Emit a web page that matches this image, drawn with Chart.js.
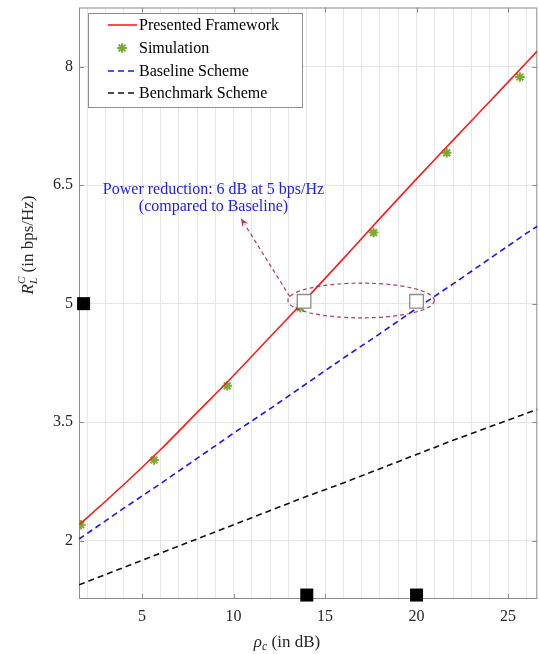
<!DOCTYPE html>
<html>
<head>
<meta charset="utf-8">
<script src="https://cdn.jsdelivr.net/npm/chart.js@4.4.1/dist/chart.umd.min.js"></script>
<style>
  html, body { margin: 0; padding: 0; background: #ffffff; }
  #wrap { width: 539px; height: 654px; }
</style>
</head>
<body>
<div id="wrap"><canvas id="rateChart" width="539" height="654"></canvas></div>
<script>
// x grid every 1 dB, labelled ticks every 5 dB
const xGridValues = [2, 3, 4, 5, 6, 7, 8, 9, 10, 11, 12, 13, 14, 15, 16, 17, 18, 19, 20, 21, 22, 23, 24, 25, 26];
const yTickValues = [2, 3.5, 5, 6.5, 8];

const curveSnr = [1.55, 2, 4, 6, 8, 10, 12, 14, 16, 18, 20, 22, 24, 26, 26.6];
const presentedRate = [2.2, 2.29, 2.71, 3.15, 3.62, 4.09, 4.58, 5.07, 5.57, 6.08, 6.58, 7.07, 7.56, 8.05, 8.2];
const baselineRate = [2.02, 2.09, 2.41, 2.72, 3.04, 3.36, 3.67, 3.99, 4.31, 4.62, 4.94, 5.25, 5.57, 5.89, 5.98];
const benchmarkRate = [1.44, 1.48, 1.66, 1.84, 2.02, 2.2, 2.38, 2.56, 2.73, 2.91, 3.09, 3.27, 3.44, 3.61, 3.66];

const simSnr = [1.65, 5.65, 9.65, 13.65, 17.65, 21.65, 25.65];
const simRate = [2.2, 3.02, 3.96, 4.95, 5.9, 6.91, 7.87];

// open squares at the 5 bps/Hz crossing points
const crossSnr = [13.85, 20];
const crossRate = [5.03, 5.03];

// filled black markers on the axes
const axisMarkSnr = [1.8, 14, 20];
const axisMarkRate = [5, 1.31, 1.31];

// annotation (data coordinates)
const ellipseCenter = [16.97, 5.04];
const ellipseRadius = [4.0, 0.22];
const arrowFrom = [13.07, 5.09];
const arrowTo = [10.4, 6.08];
const noteAt = [8.9, 6.44];
const noteLines = ["Power reduction: 6 dB at 5 bps/Hz", "(compared to Baseline)"];

const legendLabels = ["Presented Framework", "Simulation", "Baseline Scheme", "Benchmark Scheme"];

const SERIF = "'Liberation Serif', 'Times New Roman', serif";
const toXY = (xs, ys) => xs.map((x, i) => ({ x: x, y: ys[i] }));

// draws a run of text pieces centred on x; a piece with stack:true shares the previous piece's x
function drawParts(ctx, parts, x, y) {
  const widths = parts.map((p) => { ctx.font = p.font; return ctx.measureText(p.text).width; });
  let total = 0;
  parts.forEach((p, i) => {
    if (p.stack) total += Math.max(0, widths[i] - widths[i - 1]);
    else total += widths[i];
  });
  let cx = x - total / 2;
  let prevStart = cx;
  parts.forEach((p, i) => {
    ctx.font = p.font;
    if (p.stack) {
      ctx.fillText(p.text, prevStart, y + (p.dy || 0));
      cx = Math.max(cx, prevStart + widths[i]);
    } else {
      ctx.fillText(p.text, cx, y + (p.dy || 0));
      prevStart = cx;
      cx += widths[i];
    }
  });
}

const overlay = {
  id: "overlay",
  beforeDatasetsDraw(chart) {
    const ctx = chart.ctx;
    const a = chart.chartArea;
    const xs = chart.scales.x;
    const ys = chart.scales.y;
    ctx.save();
    // frame and inner ticks
    ctx.strokeStyle = "#8c8c8c";
    ctx.lineWidth = 1;
    ctx.strokeRect(a.left + 0.5, a.top + 0.5, a.right - a.left - 1, a.bottom - a.top - 1);
    ctx.beginPath();
    yTickValues.forEach((v) => {
      const py = Math.round(ys.getPixelForValue(v)) + 0.5;
      ctx.moveTo(a.left, py); ctx.lineTo(a.left + 5, py);
      ctx.moveTo(a.right, py); ctx.lineTo(a.right - 5, py);
    });
    xGridValues.filter((v) => v % 5 === 0).forEach((v) => {
      const px = Math.round(xs.getPixelForValue(v)) + 0.5;
      ctx.moveTo(px, a.bottom); ctx.lineTo(px, a.bottom - 5);
      ctx.moveTo(px, a.top); ctx.lineTo(px, a.top + 5);
    });
    ctx.stroke();
    ctx.restore();
  },
  afterDatasetsDraw(chart) {
    const ctx = chart.ctx;
    const xs = chart.scales.x;
    const ys = chart.scales.y;
    const annColor = "rgba(160, 30, 60, 0.85)";

    // ellipse
    const ex = xs.getPixelForValue(ellipseCenter[0]);
    const ey = ys.getPixelForValue(ellipseCenter[1]);
    const erx = xs.getPixelForValue(ellipseCenter[0] + ellipseRadius[0]) - ex;
    const ery = ey - ys.getPixelForValue(ellipseCenter[1] + ellipseRadius[1]);
    ctx.save();
    ctx.strokeStyle = annColor;
    ctx.lineWidth = 1.2;
    ctx.setLineDash([4, 3]);
    ctx.beginPath();
    ctx.ellipse(ex, ey, erx, ery, 0, 0, Math.PI * 2);
    ctx.stroke();

    // arrow
    const ax0 = xs.getPixelForValue(arrowFrom[0]);
    const ay0 = ys.getPixelForValue(arrowFrom[1]);
    const ax1 = xs.getPixelForValue(arrowTo[0]);
    const ay1 = ys.getPixelForValue(arrowTo[1]);
    const ang = Math.atan2(ay1 - ay0, ax1 - ax0);
    const headLen = 9;
    ctx.beginPath();
    ctx.moveTo(ax0, ay0);
    ctx.lineTo(ax1 - Math.cos(ang) * headLen * 0.8, ay1 - Math.sin(ang) * headLen * 0.8);
    ctx.stroke();
    ctx.setLineDash([]);
    ctx.fillStyle = annColor;
    ctx.beginPath();
    ctx.moveTo(ax1, ay1);
    ctx.lineTo(ax1 - headLen * Math.cos(ang - 0.4), ay1 - headLen * Math.sin(ang - 0.4));
    ctx.lineTo(ax1 - headLen * 0.6 * Math.cos(ang), ay1 - headLen * 0.6 * Math.sin(ang));
    ctx.lineTo(ax1 - headLen * Math.cos(ang + 0.4), ay1 - headLen * Math.sin(ang + 0.4));
    ctx.closePath();
    ctx.fill();

    // note text
    const nx = xs.getPixelForValue(noteAt[0]);
    const ny = ys.getPixelForValue(noteAt[1]);
    ctx.fillStyle = "#1a1aff";
    ctx.font = "16px " + SERIF;
    ctx.textAlign = "center";
    ctx.textBaseline = "middle";
    noteLines.forEach((t, i) => ctx.fillText(t, nx, ny + i * 17));
    ctx.restore();
  },
  afterDraw(chart) {
    const ctx = chart.ctx;
    ctx.save();

    // legend
    const lx = 88, ly = 13, lw = 214, lh = 94;
    ctx.fillStyle = "#ffffff";
    ctx.fillRect(lx, ly, lw, lh);
    ctx.strokeStyle = "#8c8c8c";
    ctx.lineWidth = 1;
    ctx.strokeRect(lx + 0.5, ly + 0.5, lw, lh);
    const rows = [25, 48, 71, 93];
    const ds = chart.data.datasets;
    const legendSets = [ds[2], ds[3], ds[4], ds[5]];
    legendSets.forEach((d, i) => {
      const ry = rows[i];
      ctx.strokeStyle = d.borderColor;
      ctx.lineWidth = d.borderWidth;
      if (d.showLine === false) {
        Chart.helpers.drawPoint(ctx, { pointStyle: "star", radius: d.pointRadius, rotation: 0, borderWidth: d.borderWidth }, 122, ry);
      } else {
        ctx.setLineDash(d.borderDash || []);
        ctx.beginPath();
        ctx.moveTo(108, ry); ctx.lineTo(137, ry);
        ctx.stroke();
        ctx.setLineDash([]);
      }
      ctx.fillStyle = "#000000";
      ctx.font = "16px " + SERIF;
      ctx.textAlign = "left";
      ctx.textBaseline = "middle";
      ctx.fillText(legendLabels[i], 139, ry + 1);
    });

    // axis titles
    ctx.fillStyle = "#262626";
    ctx.textAlign = "left";
    ctx.textBaseline = "alphabetic";
    drawParts(ctx, [
      { text: "\u03C1", font: "italic 17px " + SERIF },
      { text: "c", font: "italic 12px " + SERIF, dy: 3 },
      { text: " (in dB)", font: "17px " + SERIF }
    ], 287, 647);

    ctx.translate(33, 245);
    ctx.rotate(-Math.PI / 2);
    drawParts(ctx, [
      { text: "R", font: "italic 17px " + SERIF },
      { text: "L", font: "italic 11px " + SERIF, dy: 4 },
      { text: "C", font: "italic 11px " + SERIF, dy: -8, stack: true },
      { text: " (in bps/Hz)", font: "17px " + SERIF }
    ], 0, 0);
    ctx.restore();
  }
};

new Chart(document.getElementById("rateChart"), {
  type: "line",
  data: {
    datasets: [
      {
        label: "Axis markers",
        data: toXY(axisMarkSnr, axisMarkRate),
        showLine: false,
        pointStyle: "rect",
        pointRadius: 9.2,
        backgroundColor: "#000000",
        borderColor: "#000000",
        borderWidth: 0,
        clip: false,
      },
      {
        label: "Crossing",
        data: toXY(crossSnr, crossRate),
        showLine: false,
        pointStyle: "rect",
        pointRadius: 9.6,
        backgroundColor: "#ffffff",
        borderColor: "#8c8c8c",
        borderWidth: 1.3,
      },
      {
        label: legendLabels[0],
        data: toXY(curveSnr, presentedRate),
        borderColor: "#ff1a1a",
        borderWidth: 1.6,
        pointRadius: 0,
        cubicInterpolationMode: "monotone",
      },
      {
        label: legendLabels[1],
        data: toXY(simSnr, simRate),
        showLine: false,
        pointStyle: "star",
        pointRadius: 4.8,
        borderColor: "#77ac30",
        backgroundColor: "#77ac30",
        borderWidth: 2,
      },
      {
        label: legendLabels[2],
        data: toXY(curveSnr, baselineRate),
        borderColor: "#1414ff",
        borderWidth: 1.6,
        borderDash: [6, 4],
        pointRadius: 0,
      },
      {
        label: legendLabels[3],
        data: toXY(curveSnr, benchmarkRate),
        borderColor: "#111111",
        borderWidth: 1.6,
        borderDash: [6, 4],
        pointRadius: 0,
      },
    ],
  },
  options: {
    responsive: false,
    animation: false,
    layout: { autoPadding: false, padding: { left: 0, right: 1.7, top: 7.5, bottom: 0 } },
    scales: {
      x: {
        type: "linear",
        min: 1.55,
        max: 26.6,
        afterBuildTicks: (scale) => { scale.ticks = xGridValues.map((v) => ({ value: v })); },
        afterFit: (scale) => {
          scale.height = 55;
          scale.paddingLeft = 0;
          scale.paddingRight = 0;
        },
        grid: { color: "#e6e6e6", drawTicks: false },
        border: { display: false },
        ticks: {
          autoSkip: false,
          maxRotation: 0,
          padding: 8,
          color: "#262626",
          font: { family: SERIF, size: 16 },
          callback: (v) => (v % 5 === 0 ? String(v) : ""),
        },
      },
      y: {
        type: "linear",
        min: 1.26,
        max: 8.75,
        afterBuildTicks: (scale) => { scale.ticks = yTickValues.map((v) => ({ value: v })); },
        afterFit: (scale) => {
          scale.width = 79;
          scale.paddingTop = 0;
          scale.paddingBottom = 0;
        },
        grid: { color: "#e6e6e6", drawTicks: false },
        border: { display: false },
        ticks: {
          padding: 6,
          color: "#262626",
          font: { family: SERIF, size: 16 },
          callback: (v) => String(v),
        },
      },
    },
    plugins: {
      legend: { display: false },
      tooltip: { enabled: false },
    },
  },
  plugins: [overlay],
});
</script>
</body>
</html>
